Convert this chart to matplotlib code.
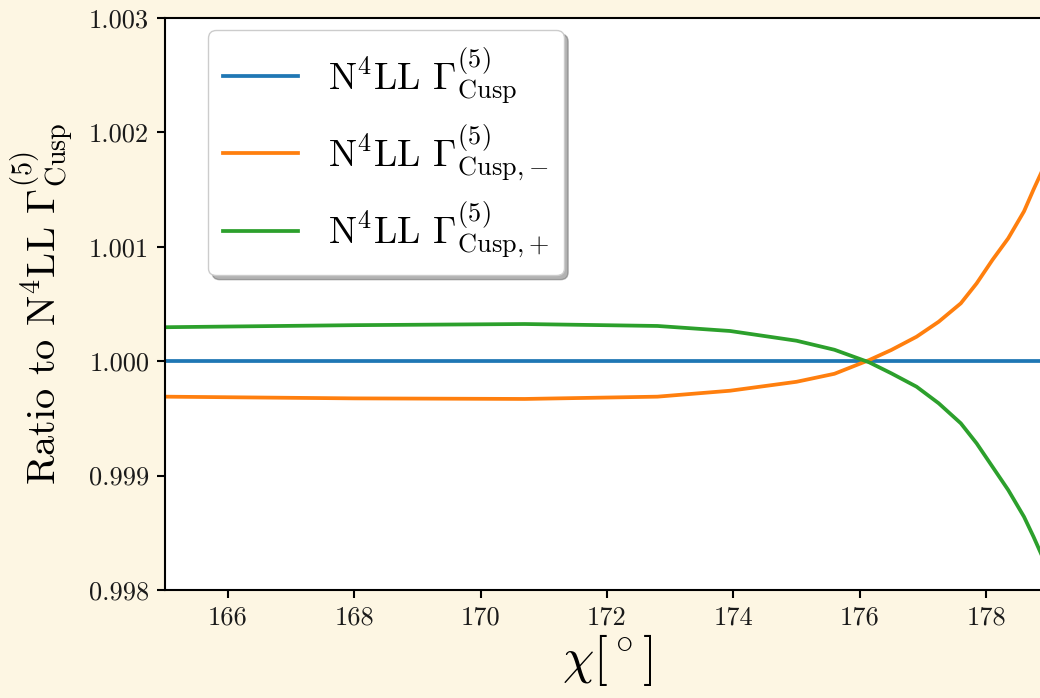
import numpy as np
import matplotlib
matplotlib.use("Agg")
import matplotlib.pyplot as plt

plt.rcParams["font.family"] = "serif"
plt.rcParams["font.serif"] = ["cmr10"]
plt.rcParams["mathtext.fontset"] = "cm"
plt.rcParams["axes.formatter.use_mathtext"] = True

# values
chi_deg = [165.0, 168.0, 170.7, 172.8, 173.95, 175.0, 175.6, 176.15, 176.5,
           176.9, 177.25, 177.6, 177.85, 178.1, 178.35, 178.6, 178.75, 178.9, 179.2]
ratio_cusp = [1.0] * len(chi_deg)
ratio_minus = [0.99969, 0.999675, 0.99967, 0.99969, 0.999742, 0.99982, 0.99989,
               1.00001, 1.000098, 1.000214, 1.000345, 1.000506, 1.00068, 1.000885,
               1.001074, 1.00131, 1.0015, 1.00168, 1.0021]
ratio_plus = [1.000297, 1.000315, 1.000325, 1.000308, 1.000264, 1.000179, 1.00010,
              0.99999, 0.999894, 0.999777, 0.999632, 0.999457, 0.999282, 0.999078,
              0.998874, 0.99864, 0.998466, 0.99828, 0.99785]

x_ticks = [166, 168, 170, 172, 174, 176, 178]
y_ticks = [0.998, 0.999, 1.000, 1.001, 1.002, 1.003]
y_tick_labels = ["0.998", "0.999", "1.000", "1.001", "1.002", "1.003"]

labels = [
    r"N$^4$LL $\Gamma^{(5)}_{\rm Cusp}$",
    r"N$^4$LL $\Gamma^{(5)}_{\rm Cusp{,}-}$",
    r"N$^4$LL $\Gamma^{(5)}_{\rm Cusp{,}+}$",
]

bg = "#fdf6e3"
fig = plt.figure(figsize=(10.4, 6.98), dpi=100, facecolor=bg)
ax = fig.add_axes([164.5 / 1040, 108 / 698, 884.8 / 1040, 572 / 698])
ax.set_facecolor("white")

lw = 2.7
ax.plot(chi_deg, ratio_cusp, color="C0", linewidth=lw, label=labels[0])
ax.plot(chi_deg, ratio_minus, color="C1", linewidth=lw, label=labels[1])
ax.plot(chi_deg, ratio_plus, color="C2", linewidth=lw, label=labels[2])

ax.set_xlim(165, 179)
ax.set_ylim(0.998, 1.003)
ax.set_xticks(x_ticks)
ax.set_xticklabels([str(t) for t in x_ticks])
ax.set_yticks(y_ticks)
ax.set_yticklabels(y_tick_labels)
ax.tick_params(labelsize=19, length=6, width=1.5, direction="out", pad=5,
               labelcolor="#1a1a1a")
for spine in ax.spines.values():
    spine.set_linewidth(1.5)

ax.set_xlabel(r"$\chi[^\circ]$", fontsize=36, labelpad=2)
ax.set_ylabel(r"Ratio to N$^4$LL $\Gamma^{(5)}_{\rm Cusp}$", fontsize=29, labelpad=10)

ax.legend(loc="upper left", bbox_to_anchor=(43.5 / 884.8, 1 - 12 / 572),
          borderaxespad=0, fontsize=27, shadow={"ox": 3, "oy": -3, "shade": 0.6},
          fancybox=True, framealpha=1.0, labelspacing=0.45)

fig.savefig("out.png", dpi=100, facecolor=bg)
